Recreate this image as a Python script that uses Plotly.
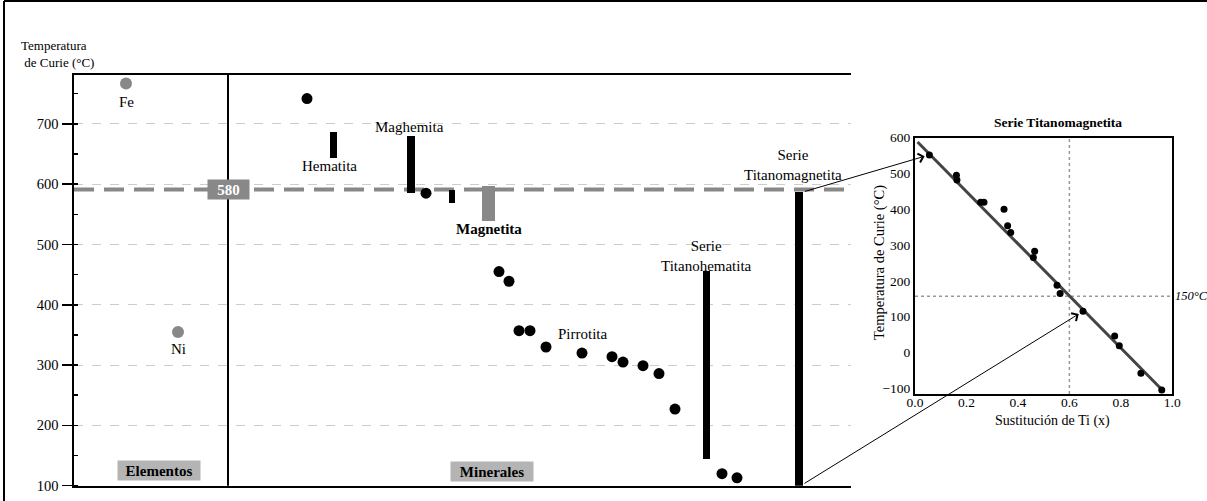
import plotly.graph_objects as go

FONT = "Liberation Serif, Times New Roman, serif"

# ---------------- main panel data ----------------
# elements (position, Curie T)
elem_names = ["Fe", "Ni"]
elem_x = [52, 104]
elem_t = [767, 355]

# mineral point measurements (position, Curie T)
dot_x = [233, 352, 425, 435, 445, 456, 472, 508, 538, 549, 569, 585, 601, 648, 663]
dot_t = [742, 585, 455, 439, 357, 357, 330, 320, 314, 305, 299, 286, 227, 120, 113]

# mineral ranges (position, low, high)
rng_names = ["Hematita", "Maghemita", "small", "Titanohematita", "Titanomagnetita"]
rng_x = [259, 337, 378, 632, 725]
rng_lo = [644, 585, 568, 144, 100]
rng_hi = [686, 680, 590, 456, 587]
rng_w = [7, 8, 6, 7, 8]

mag_x = [414]
mag_lo = [539]
mag_hi = [597]

ref_line_t = 591  # dashed reference (labelled 580)
divider_x = 154

# ---------------- inset data ----------------
ti_x = [0.056, 0.161, 0.163, 0.255, 0.268, 0.346, 0.360, 0.372, 0.460, 0.465,
        0.552, 0.564, 0.653, 0.776, 0.794, 0.878, 0.959]
ti_t = [552, 495, 482, 420, 420, 400, 354, 335, 265, 283,
        188, 165, 115, 46, 19, -58, -105]
fit_x = [0.01, 0.96]
fit_t = [588, -104]
y_ticks_main = [100, 200, 300, 400, 500, 600, 700]
y_ticks_inset = [-100, 0, 100, 200, 300, 400, 500, 600]
x_ticks_inset = [0.0, 0.2, 0.4, 0.6, 0.8, 1.0]

W, H = 1207, 501

fig = go.Figure()

# range bars (black)
fig.add_trace(go.Bar(
    x=rng_x, y=[h - l for h, l in zip(rng_hi, rng_lo)], base=rng_lo, width=rng_w,
    marker=dict(color="black", line=dict(width=0)), xaxis="x", yaxis="y",
    showlegend=False, hoverinfo="skip"))
# magnetite bar (gray)
fig.add_trace(go.Bar(
    x=mag_x, y=[h - l for h, l in zip(mag_hi, mag_lo)], base=mag_lo, width=[13],
    marker=dict(color="#888888", line=dict(width=0)), xaxis="x", yaxis="y",
    showlegend=False, hoverinfo="skip"))
# mineral dots
fig.add_trace(go.Scatter(
    x=dot_x, y=dot_t, mode="markers",
    marker=dict(color="black", size=11), xaxis="x", yaxis="y",
    showlegend=False, hoverinfo="skip"))
# elements
fig.add_trace(go.Scatter(
    x=elem_x, y=elem_t, mode="markers",
    marker=dict(color="#888888", size=12), xaxis="x", yaxis="y",
    showlegend=False, hoverinfo="skip"))

# inset fit line
fig.add_trace(go.Scatter(
    x=fit_x, y=fit_t, mode="lines", line=dict(color="#444444", width=3),
    xaxis="x2", yaxis="y2", showlegend=False, hoverinfo="skip"))
# inset points
fig.add_trace(go.Scatter(
    x=ti_x, y=ti_t, mode="markers", marker=dict(color="black", size=7),
    xaxis="x2", yaxis="y2", showlegend=False, hoverinfo="skip"))

shapes = [
    # outer frame (left + top)
    dict(type="line", xref="paper", yref="paper", x0=4/W, x1=4/W, y0=0, y1=1 - 1/H,
         line=dict(color="black", width=2)),
    dict(type="line", xref="paper", yref="paper", x0=4/W, x1=1, y0=1 - 1/H, y1=1 - 1/H,
         line=dict(color="black", width=2)),
    # dashed reference line
    dict(type="line", xref="x", yref="y", x0=0, x1=777, y0=ref_line_t, y1=ref_line_t,
         line=dict(color="#888888", width=4, dash="20px,10px"), layer="below"),
    # divider
    dict(type="line", xref="x", yref="y domain", x0=divider_x, x1=divider_x, y0=0, y1=1,
         line=dict(color="black", width=2)),
    # inset dotted guides
    dict(type="line", xref="x2", yref="y2 domain", x0=0.6, x1=0.6, y0=0, y1=1,
         line=dict(color="#999999", width=1.5, dash="dot"), layer="below"),
    dict(type="line", xref="x2 domain", yref="y2", x0=0, x1=1, y0=157, y1=157,
         line=dict(color="#999999", width=1.5, dash="dot"), layer="below"),
]

def txt(x, y, s, size=15, bold=False, **kw):
    return dict(x=x, y=y, xref="x", yref="y", text=("<b>%s</b>" % s) if bold else s,
                showarrow=False, xanchor="center", yanchor="middle",
                font=dict(family=FONT, size=size, color="black"), **kw)

def ptxt(x, y, s, size, **kw):
    d = dict(x=x / W, y=1 - y / H, xref="paper", yref="paper", text=s, showarrow=False,
             xanchor="center", yanchor="middle", font=dict(family=FONT, size=size, color="black"))
    d.update(kw)
    return d

annotations = [
    ptxt(19, 54.5, "Temperatura<br> de Curie (°C)", 13, xanchor="left", align="left"),
    txt(52, 737, "Fe"),
    txt(104, 326, "Ni"),
    txt(255, 630, "Hematita"),
    txt(335, 695, "Maghemita"),
    txt(415, 526, "Magnetita", size=15, bold=True),
    txt(509, 351, "Pirrotita"),
    txt(632, 481, "Serie<br>Titanohematita"),
    txt(719, 632, "Serie<br>Titanomagnetita"),
    dict(x=divider_x, y=ref_line_t, xref="x", yref="y", text="<b>580</b>", showarrow=False,
         bgcolor="#888888", borderpad=1, width=39, height=17,
         font=dict(family=FONT, size=15, color="white")),
    dict(x=85, y=125, xref="x", yref="y", text="<b>Elementos</b>", showarrow=False,
         bgcolor="#b4b4b4", borderpad=1, width=80, height=17,
         font=dict(family=FONT, size=15, color="black")),
    dict(x=418, y=124, xref="x", yref="y", text="<b>Minerales</b>", showarrow=False,
         bgcolor="#b4b4b4", borderpad=1, width=80, height=17,
         font=dict(family=FONT, size=15, color="black")),
    # inset title and axis titles
    ptxt(1058, 122.7, "<b>Serie Titanomagnetita</b>", 13.5),
    ptxt(1052, 421, "Sustitución de Ti (x)", 14),
    ptxt(879, 262, "Temperatura de Curie (°C)", 14.5, textangle=-90),
    dict(x=1191/W, y=157, xref="paper", yref="y2", text="<i>150°C</i>", showarrow=False,
         xanchor="center", yanchor="middle",
         font=dict(family=FONT, size=12.5, color="black")),
    # arrows from the Titanomagnetita bar to the inset
    dict(x=ti_x[0], y=ti_t[0], xref="x2", yref="y2", text="", showarrow=True,
         ax=-126, ay=37, arrowhead=4, arrowsize=1.8, arrowwidth=1, arrowcolor="black",
         standoff=5),
    dict(x=ti_x[12], y=ti_t[12], xref="x2", yref="y2", text="", showarrow=True,
         ax=-280, ay=173, arrowhead=4, arrowsize=1.8, arrowwidth=1, arrowcolor="black",
         standoff=5),
]

fig.update_layout(
    width=W, height=H, autosize=False,
    margin=dict(l=0, r=0, t=0, b=0, pad=0, autoexpand=False),
    paper_bgcolor="white", plot_bgcolor="white",
    font=dict(family=FONT, size=12, color="black"),
    bargap=0,
    xaxis=dict(domain=[74/W, 851/W], range=[0, 777], showticklabels=False, ticks="",
               showgrid=False, zeroline=False, showline=True, mirror=True,
               linecolor="black", linewidth=2.5, anchor="y", automargin=False),
    yaxis=dict(domain=[1 - 485.7/H, 1 - 75/H], range=[100, 781], tickvals=y_ticks_main,
               ticks="outside", ticklen=10, tickwidth=1.5, tickcolor="black",
               minor=dict(dtick=50, ticks="inside", ticklen=4, tickcolor="black",
                          showgrid=False),
               showgrid=True, gridcolor="#cccccc", griddash="dash", gridwidth=1,
               zeroline=False, showline=True, linecolor="black", linewidth=2.5,
               anchor="x", tickfont=dict(family=FONT, size=14.5), automargin=False),
    xaxis2=dict(domain=[915/W, 1172.3/W], range=[0, 1], tickvals=x_ticks_inset,
                tickformat=".1f", ticks="", ticklen=0, ticklabelstandoff=-5,
                showgrid=False, zeroline=False,
                showline=True, mirror=True, linecolor="black", linewidth=2,
                anchor="y2", tickfont=dict(family=FONT, size=13.5), automargin=False),
    yaxis2=dict(domain=[1 - 394/H, 1 - 137.7/H], range=[-116, 600], tickvals=y_ticks_inset,
                ticks="", ticklen=0, showgrid=False, zeroline=False, showline=True,
                mirror=True, linecolor="black", linewidth=2, anchor="x2",
                tickfont=dict(family=FONT, size=13.5), automargin=False),
    shapes=shapes,
    annotations=annotations,
)

fig.write_html(
    "out.html",
    config={"displayModeBar": False, "staticPlot": True},
    post_script="document.body.style.margin='0';document.body.style.overflow='hidden';",
)
